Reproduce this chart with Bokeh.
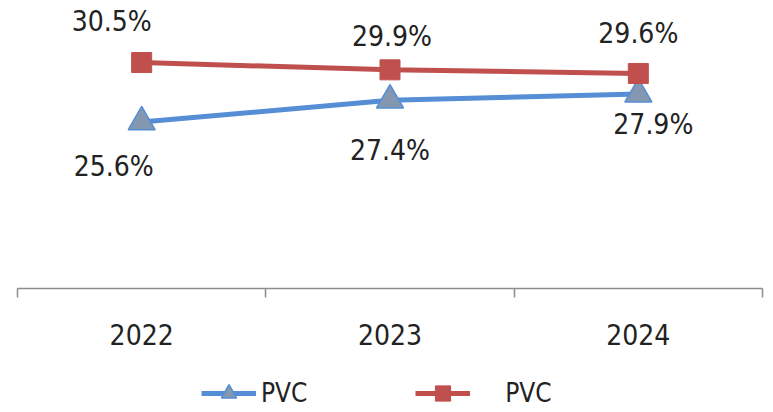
from bokeh.plotting import figure
from bokeh.layouts import column
from bokeh.models import (Range1d, FixedTicker, Legend, LegendItem, ColumnDataSource)
from bokeh.core.properties import value
from bokeh.embed import file_html
from bokeh.resources import INLINE

# ---- data ----
years = ["2022", "2023", "2024"]
series_a = [25.6, 27.4, 27.9]   # blue, triangles
series_b = [30.5, 29.9, 29.6]   # red, squares
label_a = "PVC"
label_b = "\u00a0\u00a0\u00a0\u00a0PVC"

# label offsets (screen px) for the data labels
off_a_x = [-28, 0, 15]
off_a_y = [44, 50, 30]
off_b_x = [-30, 2, 0]
off_b_y = [-41, -33, -40]

FONT = "DejaVu Sans Condensed"
BLUE = "#558ED5"
BLUE_FILL = "#8497B0"
RED = "#C0504D"
TXT = "#222222"

xs = [i + 0.5 for i in range(len(years))]

src_a = ColumnDataSource(dict(x=xs, y=series_a, t=[f"{v:.1f}%" for v in series_a], dx=off_a_x, dy=off_a_y))
src_b = ColumnDataSource(dict(x=xs, y=series_b, t=[f"{v:.1f}%" for v in series_b], dx=off_b_x, dy=off_b_y))


def draw_series(fig):
    la = fig.line("x", "y", source=src_a, line_color=BLUE, line_width=5)
    ma = fig.scatter("x", "y", source=src_a, marker="triangle", size=27,
                     fill_color=BLUE_FILL, line_color=BLUE, line_width=1.5)
    lb = fig.line("x", "y", source=src_b, line_color=RED, line_width=5)
    mb = fig.scatter("x", "y", source=src_b, marker="square", size=20,
                     fill_color=RED, line_color=RED, line_width=1)
    return la, ma, lb, mb


# ---- main chart ----
p = figure(width=773, height=374, output_backend="svg", toolbar_location=None,
           x_range=Range1d(0, len(years)), y_range=Range1d(11.89, 35.61),
           min_border_left=17, min_border_right=11, min_border_top=0, min_border_bottom=86)
p.outline_line_color = None
p.grid.visible = False
p.yaxis.visible = False

draw_series(p)

for s in (src_a, src_b):
    p.text("x", "y", text="t", source=s, x_offset="dx", y_offset="dy",
           text_align="center", text_baseline="middle",
           text_font=value(FONT), text_font_size="28px", text_color=TXT)

ax = p.xaxis[0]
ax.ticker = FixedTicker(ticks=xs, minor_ticks=list(range(len(years) + 1)))
ax.major_label_overrides = {x: y for x, y in zip(xs, years)}
ax.major_tick_out = 0
ax.major_tick_in = 0
ax.minor_tick_out = 9
ax.minor_tick_in = 0
ax.minor_tick_line_color = "#8c8c8c"
ax.minor_tick_line_width = 1.5
ax.axis_line_color = "#8c8c8c"
ax.axis_line_width = 1.5
ax.major_label_standoff = 26
ax.major_label_text_font = FONT
ax.major_label_text_font_size = "28px"
ax.major_label_text_color = TXT

# ---- legend strip ----
q = figure(width=773, height=38, output_backend="svg", toolbar_location=None,
           x_range=Range1d(100, 101), y_range=Range1d(100, 101),
           min_border_left=0, min_border_right=0, min_border_top=0, min_border_bottom=0)
q.outline_line_color = None
q.grid.visible = False
q.axis.visible = False
la, ma, lb, mb = draw_series(q)

legend = Legend(items=[LegendItem(label=label_a, renderers=[la, ma]),
                       LegendItem(label=label_b, renderers=[lb, mb])],
                orientation="horizontal", location=(184, 0),
                glyph_width=55, glyph_height=38, label_standoff=5, spacing=108,
                padding=0, margin=0, border_line_color=None, background_fill_alpha=0,
                label_text_font=FONT, label_text_font_size="26px", label_text_color=TXT)
q.add_layout(legend, "center")

root = column(p, q, spacing=0)
open("out.html", "w").write(file_html(root, INLINE))
